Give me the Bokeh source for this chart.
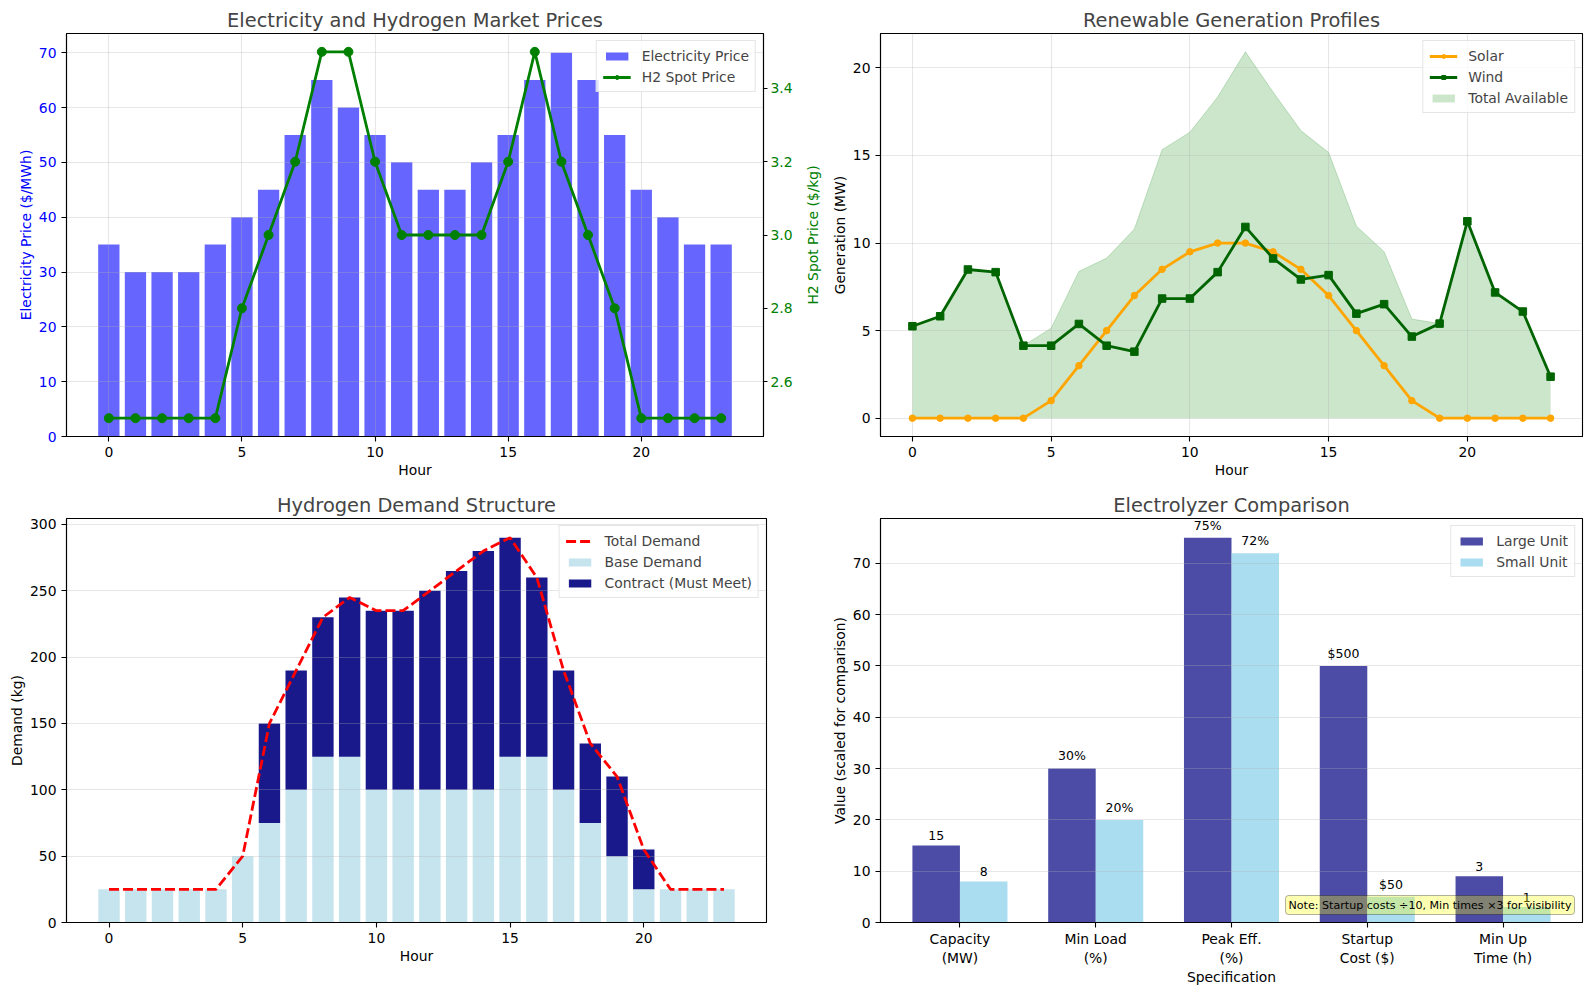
from bokeh.plotting import figure
from bokeh.models import (Range1d, LinearAxis, SingleIntervalTicker, FixedTicker,
                          NumeralTickFormatter, Legend, LegendItem, Label, Title)
from bokeh.layouts import column, row
from bokeh.embed import file_html
from bokeh.resources import INLINE
from bokeh.core.properties import value

# ---------------------------------------------------------------- data
hours = list(range(24))

electricity_price = [35, 30, 30, 30, 35, 40, 45, 55, 65, 60, 55, 50,
                     45, 45, 50, 55, 65, 70, 65, 55, 45, 40, 35, 35]
h2_spot_price = [2.5, 2.5, 2.5, 2.5, 2.5, 2.8, 3.0, 3.2, 3.5, 3.5, 3.2, 3.0,
                 3.0, 3.0, 3.0, 3.2, 3.5, 3.2, 3.0, 2.8, 2.5, 2.5, 2.5, 2.5]

solar_mw = [0, 0, 0, 0, 0, 1, 3, 5, 7, 8.5, 9.5, 10,
            10, 9.5, 8.5, 7, 5, 3, 1, 0, 0, 0, 0, 0]
wind_mw = [5.25, 5.82, 8.49, 8.34, 4.14, 4.14, 5.38, 4.14, 3.80, 6.83, 6.83, 8.34,
           10.92, 9.12, 7.92, 8.17, 5.97, 6.51, 4.66, 5.40, 11.24, 7.18, 6.09, 2.37]

base_demand = [25, 25, 25, 25, 25, 50, 75, 100, 125, 125, 100, 100,
               100, 100, 100, 125, 125, 100, 75, 50, 25, 25, 25, 25]
contract_demand = [0, 0, 0, 0, 0, 0, 75, 90, 105, 120, 135, 135,
                   150, 165, 180, 165, 135, 90, 60, 60, 30, 0, 0, 0]

spec_labels = ["Capacity\n(MW)", "Min Load\n(%)", "Peak Eff.\n(%)",
               "Startup\nCost ($)", "Min Up\nTime (h)"]
large_unit = [15, 30, 75, 500, 3]
small_unit = [8, 20, 72, 50, 1]
display_scale = [1, 1, 1, 0.1, 3]          # startup costs /10, min times x3
value_formats = ["{}", "{}%", "{}%", "${}", "{}"]

# ---------------------------------------------------------------- helpers
FONT = "DejaVu Sans"
GRID = "#b0b0b0"


def pad_range(lo, hi, frac=0.05):
    span = hi - lo
    return Range1d(lo - frac * span, hi + frac * span)


def style_axis(ax, color="black"):
    ax.axis_label_text_font = FONT
    ax.axis_label_text_font_size = "13.9px"
    ax.axis_label_text_font_style = "normal"
    ax.axis_label_text_color = color
    ax.axis_label_standoff = 2
    ax.major_label_text_font = FONT
    ax.major_label_text_font_size = "13.9px"
    ax.major_label_text_color = color
    ax.major_label_standoff = 5
    ax.major_tick_in = 0
    ax.major_tick_out = 5
    ax.major_tick_line_width = 1.1
    ax.minor_tick_line_color = None
    ax.axis_line_width = 1.1


def make_fig(title, width, height, left, right, top, bottom, x_range, y_range,
             xlabel, ylabel, ylabel_color="black", xgrid=True):
    p = figure(width=width, height=height, x_range=x_range, y_range=y_range,
               output_backend="svg", toolbar_location=None,
               min_border_left=left, min_border_right=right,
               min_border_top=top, min_border_bottom=bottom,
               background_fill_color="white", border_fill_color="white")
    p.title.text = title
    p.title.text_font = FONT
    p.title.text_font_size = "19.4px"
    p.title.text_font_style = "normal"
    p.title.align = "center"
    p.title.standoff = 3
    p.outline_line_color = "black"
    p.outline_line_width = 1.1
    p.outline_line_alpha = 1.0
    p.xaxis.axis_label = xlabel
    p.yaxis.axis_label = ylabel
    style_axis(p.xaxis[0])
    style_axis(p.yaxis[0], ylabel_color)
    for g in (p.xgrid[0], p.ygrid[0]):
        g.grid_line_color = GRID
        g.grid_line_alpha = 0.3
        g.grid_line_width = 1.1
    if not xgrid:
        p.xgrid.visible = False
    return p


def make_legend(items):
    return Legend(items=items, location="top_right", margin=7, padding=6,
                  spacing=4, label_standoff=11, glyph_width=28, glyph_height=10,
                  label_height=17, label_text_font=FONT,
                  label_text_font_size="13.9px",
                  border_line_color="#cccccc", border_line_width=1,
                  background_fill_color="white", background_fill_alpha=0.8)


# ---------------------------------------------------------------- market prices
x1 = pad_range(-0.4, 23.4)
h2_range = pad_range(min(h2_spot_price), max(h2_spot_price))

p1 = make_fig("Electricity and Hydrogen Market Prices", 795, 480, 66, 29, 33, 44,
              x1, Range1d(0, max(electricity_price) * 1.05),
              "Hour", "Electricity Price ($/MWh)", ylabel_color="blue")
p1.xaxis.ticker = SingleIntervalTicker(interval=5, num_minor_ticks=0)
p1.yaxis.ticker = SingleIntervalTicker(interval=10, num_minor_ticks=0)

p1.extra_y_ranges = {"h2": h2_range}
h2_axis = LinearAxis(y_range_name="h2",
                     ticker=SingleIntervalTicker(interval=0.2, num_minor_ticks=0),
                     formatter=NumeralTickFormatter(format="0.0"))
style_axis(h2_axis, "green")
h2_axis.major_tick_out = 4
h2_axis.major_label_standoff = 3
p1.add_layout(h2_axis, "right")

price_bars = p1.vbar(x=hours, top=electricity_price, width=0.8, fill_color="blue",
                     fill_alpha=0.6, line_color=None, level="image")
h2_line = p1.line(hours, h2_spot_price, y_range_name="h2", line_color="green",
                  line_width=2.8)
h2_pts = p1.scatter(hours, h2_spot_price, y_range_name="h2", marker="circle",
                    size=9, fill_color="green", line_color="green")
p1.add_layout(make_legend([
    LegendItem(label="Electricity Price", renderers=[price_bars]),
    LegendItem(label="H2 Spot Price", renderers=[h2_line, h2_pts]),
]))

# ---------------------------------------------------------------- renewables
total_mw = [s + w for s, w in zip(solar_mw, wind_mw)]

p2 = make_fig("Renewable Generation Profiles", 794, 480, 85, 7, 33, 44,
              pad_range(0, 23), pad_range(0, max(total_mw)),
              "Hour", "Generation (MW)")
p2.xaxis.ticker = SingleIntervalTicker(interval=5, num_minor_ticks=0)
p2.yaxis.ticker = SingleIntervalTicker(interval=5, num_minor_ticks=0)

# title of the hydrogen price scale, set in the gutter between the two panels
p2.add_layout(Title(text="H2 Spot Price ($/kg)", align="center",
                    text_color="green", text_font=FONT, text_font_size="13.9px",
                    text_font_style="normal", standoff=15), "left")

total_area = p2.varea(x=hours, y1=[0] * len(hours), y2=total_mw, fill_color="green",
                      fill_alpha=0.2, level="image")
p2.line(hours, total_mw, line_color="green", line_alpha=0.2, line_width=1,
        level="image")
solar_line = p2.line(hours, solar_mw, line_color="orange", line_width=2.8)
solar_pts = p2.scatter(hours, solar_mw, marker="circle", size=6.5,
                       fill_color="orange", line_color="orange")
wind_line = p2.line(hours, wind_mw, line_color="darkgreen", line_width=2.8)
wind_pts = p2.scatter(hours, wind_mw, marker="square", size=7.5,
                      fill_color="darkgreen", line_color="darkgreen")
p2.add_layout(make_legend([
    LegendItem(label="Solar", renderers=[solar_line, solar_pts]),
    LegendItem(label="Wind", renderers=[wind_line, wind_pts]),
    LegendItem(label="Total Available", renderers=[total_area]),
]))

# ---------------------------------------------------------------- demand
total_demand = [b + c for b, c in zip(base_demand, contract_demand)]

p3 = make_fig("Hydrogen Demand Structure", 820, 510, 66, 54, 38, 68,
              pad_range(-0.4, 23.4), Range1d(0, max(total_demand) * 1.05),
              "Hour", "Demand (kg)", xgrid=False)
p3.xaxis.ticker = SingleIntervalTicker(interval=5, num_minor_ticks=0)
p3.yaxis.ticker = SingleIntervalTicker(interval=50, num_minor_ticks=0)

base_bars = p3.vbar(x=hours, bottom=0, top=base_demand, width=0.8,
                    fill_color="lightblue", fill_alpha=0.7, line_color=None,
                    level="image")
contract_bars = p3.vbar(x=hours, bottom=base_demand, top=total_demand, width=0.8,
                        fill_color="navy", fill_alpha=0.9, line_color=None,
                        level="image")
total_line = p3.line(hours, total_demand, line_color="red", line_width=2.8,
                     line_dash="10 4")
p3.add_layout(make_legend([
    LegendItem(label="Total Demand", renderers=[total_line]),
    LegendItem(label="Base Demand", renderers=[base_bars]),
    LegendItem(label="Contract (Must Meet)", renderers=[contract_bars]),
]))

# ---------------------------------------------------------------- electrolyzers
idx = list(range(len(spec_labels)))
bar_w = 0.35
large_scaled = [v * s for v, s in zip(large_unit, display_scale)]
small_scaled = [v * s for v, s in zip(small_unit, display_scale)]

x4 = pad_range(-bar_w, len(idx) - 1 + bar_w)
p4 = make_fig("Electrolyzer Comparison", 769, 510, 60, 7, 38, 68,
              x4, Range1d(0, max(large_scaled + small_scaled) * 1.05),
              "Specification", "Value (scaled for comparison)", xgrid=False)
p4.xaxis.ticker = FixedTicker(ticks=idx)
p4.xaxis.major_label_overrides = {i: lab for i, lab in zip(idx, spec_labels)}
p4.xaxis.major_label_standoff = 3
p4.xaxis.axis_label_standoff = 0
p4.yaxis.ticker = SingleIntervalTicker(interval=10, num_minor_ticks=0)

x_large = [i - bar_w / 2 for i in idx]
x_small = [i + bar_w / 2 for i in idx]
large_bars = p4.vbar(x=x_large, top=large_scaled, width=bar_w, fill_color="navy",
                     fill_alpha=0.7, line_color=None, level="image")
small_bars = p4.vbar(x=x_small, top=small_scaled, width=bar_w, fill_color="skyblue",
                     fill_alpha=0.7, line_color=None, level="image")

p4.text(x=x_large + x_small,
        y=[h + 1 for h in large_scaled + small_scaled],
        text=[f.format(v) for f, v in zip(value_formats + value_formats,
                                          large_unit + small_unit)],
        text_align="center", text_baseline="bottom", text_color="black",
        text_font=value(FONT), text_font_size=value("12.5px"))

p4.add_layout(make_legend([
    LegendItem(label="Large Unit", renderers=[large_bars]),
    LegendItem(label="Small Unit", renderers=[small_bars]),
]))

note = Label(x=x4.end, y=0, x_offset=-8, y_offset=8,
             text="Note: Startup costs \u00f710, Min times \u00d73 for visibility",
             text_align="right", text_baseline="bottom", text_color="black",
             text_font=FONT, text_font_size="11.1px",
             background_fill_color="yellow", background_fill_alpha=0.3,
             border_line_color="black", border_line_alpha=0.3,
             padding=3, border_radius=3)
p4.add_layout(note)

layout = column(row(p1, p2), row(p3, p4))

open("out.html", "w").write(file_html(layout, INLINE))
